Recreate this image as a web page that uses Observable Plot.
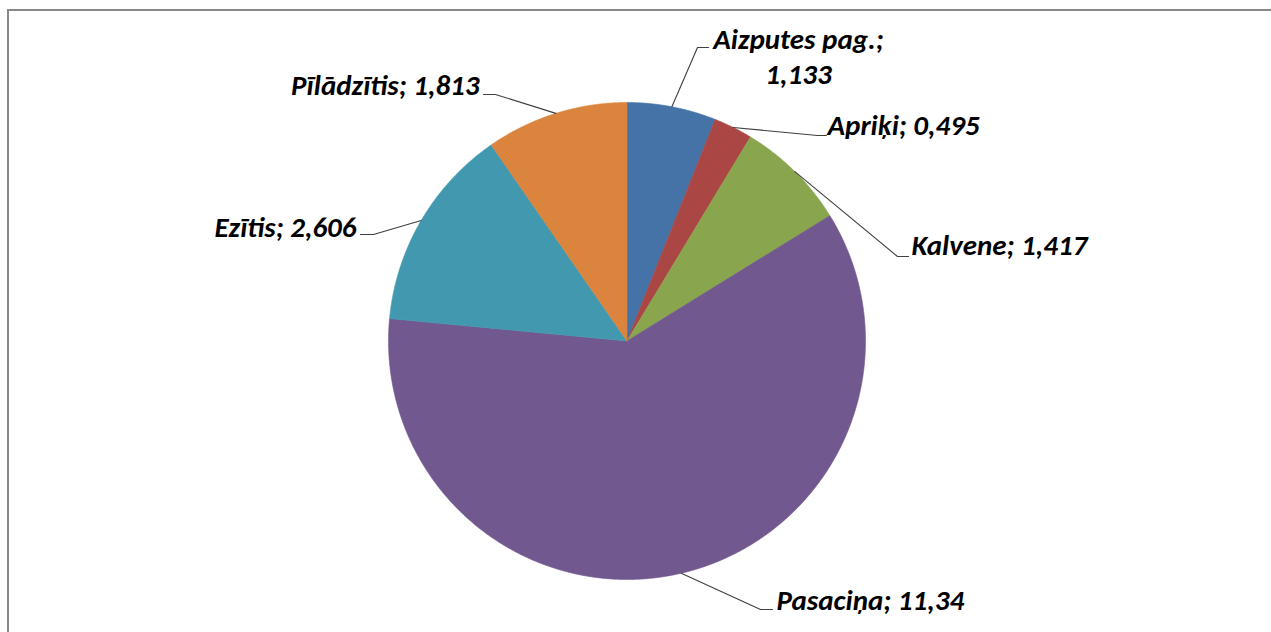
<!DOCTYPE html>
<html><head><meta charset="utf-8">
<script src="https://cdn.jsdelivr.net/npm/d3@7"></script>
<script src="https://cdn.jsdelivr.net/npm/@observablehq/plot@0.6"></script>
<style>
html,body{margin:0;padding:0;background:#fff;}
#wrap{position:relative;width:1271px;height:632px;overflow:hidden;}
#frame{position:absolute;left:7px;top:9px;width:1320px;height:700px;border-left:2px solid #888;border-top:2px solid #888;box-sizing:border-box;}
#wrap svg{position:absolute;left:0;top:0;}
</style></head><body><div id="wrap"><div id="frame"></div></div>
<script>
// ---- data ----
const names = ["Aizputes pag.", "Apriķi", "Kalvene", "Pasaciņa", "Ezītis", "Pīlādzītis"];
const values = [1.133, 0.495, 1.417, 11.34, 2.606, 1.813];
const valueLabels = ["1,133", "0,495", "1,417", "11,34", "2,606", "1,813"];
const colors = ["#4572A7", "#AA4643", "#89A54E", "#71588F", "#4198AF", "#DB843D"];

// ---- layout (pixels) ----
const W = 1271, H = 632, CX = 626.5, CY = 340.5, R = 238.5;
const labelLayout = [
  {elbow: [697, 47], end: [708, 47], text: [798, 83], anchor: "middle", wrap: true},
  {elbow: [817, 135], end: [826, 135], text: [827, 134], anchor: "start"},
  {elbow: [897, 256], end: [908, 256], text: [911, 254], anchor: "start"},
  {elbow: [760, 609], end: [772, 609], text: [776, 609], anchor: "start"},
  {elbow: [373, 234], end: [360, 234], text: [356, 236], anchor: "end"},
  {elbow: [495, 94], end: [483, 94], text: [479, 94], anchor: "end"}
];
const u = p => ({x: (p[0] - CX) / R, y: (CY - p[1]) / R});

const arcs = d3.pie().sort(null).startAngle(0).endAngle(2 * Math.PI)(values);

const slicePts = [];
arcs.forEach((a, i) => {
  const n = Math.max(2, Math.ceil((a.endAngle - a.startAngle) / 0.005));
  slicePts.push({name: names[i], x: 0, y: 0});
  for (let k = 0; k <= n; k++) {
    const t = a.startAngle + (a.endAngle - a.startAngle) * k / n;
    slicePts.push({name: names[i], x: Math.sin(t), y: Math.cos(t)});
  }
  slicePts.push({name: names[i], x: 0, y: 0});
});

const leaderPts = [];
const labelRows = [];
arcs.forEach((a, i) => {
  const L = labelLayout[i];
  const m = (a.startAngle + a.endAngle) / 2;
  leaderPts.push({name: names[i], x: Math.sin(m), y: Math.cos(m)});
  leaderPts.push({name: names[i], ...u(L.elbow)});
  leaderPts.push({name: names[i], ...u(L.end)});
  labelRows.push({name: names[i], anchor: L.anchor, ...u(L.text),
    label: names[i] + ";" + (L.wrap ? "\n" : " ") + valueLabels[i]});
});

const textOpts = {
  x: "x", y: "y", text: "label", lineAnchor: "bottom", lineHeight: 1.2,
  fontFamily: "Carlito, Lato, 'Liberation Sans', sans-serif",
  fontWeight: "bold", fontStyle: "italic", fontSize: 29, fill: "#000"
};

const chart = Plot.plot({
  width: W, height: H, margin: 0,
  style: {background: "transparent", overflow: "visible"},
  x: {domain: [-CX / R, (W - CX) / R], axis: null},
  y: {domain: [-(H - CY) / R, CY / R], axis: null},
  color: {domain: names, range: colors},
  marks: [
    Plot.line(slicePts, {x: "x", y: "y", z: "name", fill: "name", stroke: "name", strokeWidth: 0.6, curve: "linear"}),
    Plot.line(leaderPts, {x: "x", y: "y", z: "name", stroke: "#3f3f3f", strokeWidth: 1.1, curve: "linear"}),
    Plot.text(labelRows.filter(d => d.anchor === "start"), {...textOpts, textAnchor: "start"}),
    Plot.text(labelRows.filter(d => d.anchor === "end"), {...textOpts, textAnchor: "end"}),
    Plot.text(labelRows.filter(d => d.anchor === "middle"), {...textOpts, textAnchor: "middle"})
  ]
});
document.getElementById("wrap").appendChild(chart);
</script>
</body></html>
